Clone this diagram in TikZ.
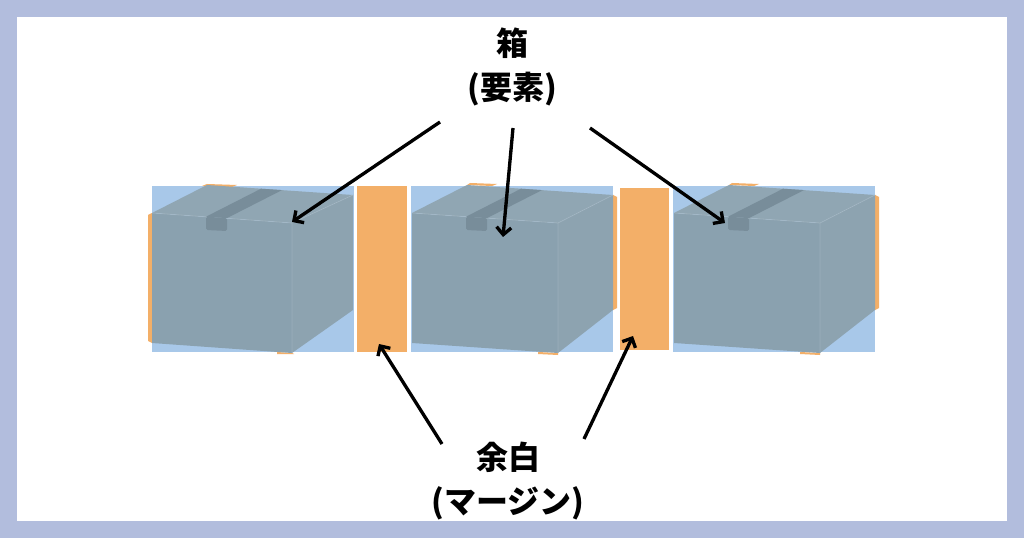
\documentclass[tikz,border=0pt]{standalone}
\usepackage{fontspec}
\newfontfamily\jpfont{Noto Sans CJK JP}
\usetikzlibrary{arrows.meta}
\definecolor{lav}{HTML}{B2BDDD}
\definecolor{bluebg}{HTML}{A8C8E9}
\definecolor{orng}{HTML}{F3AF68}
\definecolor{cfront}{HTML}{8AA1AF}
\definecolor{ctop}{HTML}{90A6B3}
\definecolor{cside}{HTML}{8DA3B0}
\definecolor{ctape}{HTML}{788D9A}
% #1,#2 front top-left corner; #3 = 0: orange edge left, 1: orange edge right; #4 front width
\newcommand\mycube[4]{%
\begin{scope}[shift={(#1,#2)}]
  \ifnum#3=0
    \fill[orng] (-4,2) -- (0,0) -- (0,130) -- (-4,128) -- cycle;
    \fill[orng] (50,-27) -- (55,-29) -- (85,-28) -- (80,-26) -- cycle;
    \fill[orng] ({#4-15},139) -- (#4,140) -- ({#4+2},141) -- ({#4-15},141) -- cycle;
  \else
    \fill[orng] (201,-18) -- (205,-16) -- (205,95) -- (201,97) -- cycle;
    \fill[orng] (55,-28) -- (58,-30) -- (85,-29) -- (80,-27) -- cycle;
    \fill[orng] ({#4-20},139) -- (#4,140) -- (#4,142) -- ({#4-20},141) -- cycle;
  \fi
  \fill[cfront] (0,0) -- (#4,10) -- (#4,140) -- (0,130) -- cycle;
  \fill[ctop] (0,0) -- (55,-28) -- (201,-18) -- (#4,10) -- cycle;
  \fill[cside] (#4,10) -- (201,-18) -- (201,97) -- (#4,140) -- cycle;
  \draw[white, opacity=0.15, line width=0.6pt] (#4,140) -- (#4,10) -- (201,-18) (0,0) -- (#4,10);
  \fill[ctape] (54,3.7) -- (109,-24.3) -- (130,-22.9) -- (75,5.1) -- cycle;
  \fill[ctape, rounded corners=1.2pt] (54,3.7) -- (75,5.1) -- (75,18) -- (54,17) -- cycle;
\end{scope}}
\begin{document}
\begin{tikzpicture}[x=0.75pt,y=-0.75pt,
  arr/.style={line width=2.5pt, -{Straight Barb[length=5.5pt,width=11pt]}},
  lbl/.style={font=\jpfont\bfseries\fontsize{24}{32.5}\selectfont, align=center, text=black, inner sep=0pt},
  mbar/.style={fill=orng, draw=none, inner sep=0pt}]
\fill[lav] (0,0) rectangle (1024,538);
\fill[white] (17,17) rectangle (1007,521);
\useasboundingbox (0,0) rectangle (1024,538);
% element backgrounds
\fill[bluebg] (152,186) rectangle (354,352);
\fill[bluebg] (411,186) rectangle (613,352);
\fill[bluebg] (673,186) rectangle (875,352);
% boxes
\mycube{152}{213}{0}{140}
\mycube{412}{213}{1}{146}
\mycube{674}{213}{1}{146}
% margins
\node[mbar, minimum width=37.5pt, minimum height=124.5pt] (m1) at (382,269) {};
\node[mbar, minimum width=36.75pt, minimum height=121.5pt] (m2) at (644.5,269) {};
% labels
\node[lbl] (box) at (512,67) {箱\\(要素)};
\node[lbl] (margin) at (508,481) {余白\\(マージン)};
% arrow ends
\coordinate (s1) at (440,122);
\coordinate (t1) at (292,222);
\coordinate (s2) at (513,128);
\coordinate (t2) at (503,237);
\coordinate (s3) at (590,128);
\coordinate (t3) at (725,223);
\coordinate (s4) at (442,444);
\coordinate (t4) at (379,344);
\coordinate (s5) at (584,439);
\coordinate (t5) at (633,336);
\draw[arr] (s1) -- (t1);
\draw[arr] (s2) -- (t2);
\draw[arr] (s3) -- (t3);
\draw[arr] (s4) -- (t4);
\draw[arr] (s5) -- (t5);
\end{tikzpicture}
\end{document}
